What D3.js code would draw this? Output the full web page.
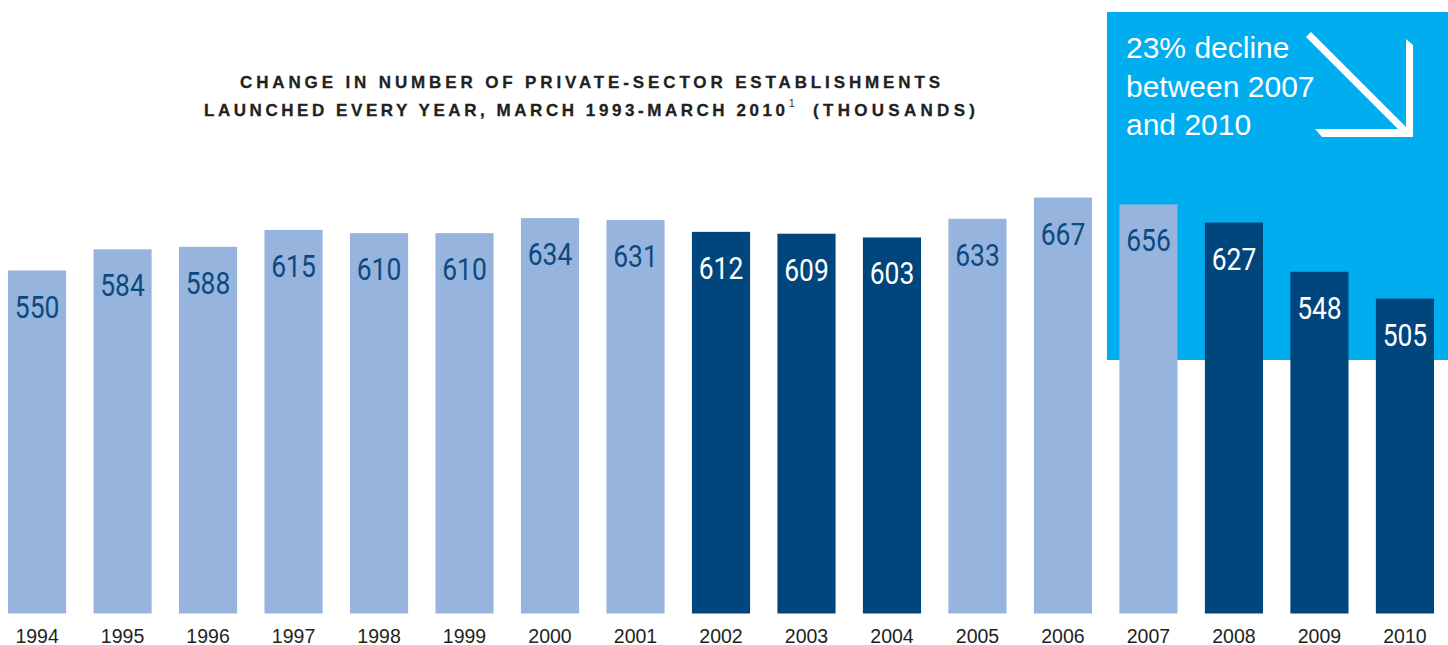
<!DOCTYPE html>
<html>
<head>
<meta charset="utf-8">
<script src="https://cdn.jsdelivr.net/npm/d3@7"></script>
<style>
  html, body { margin: 0; padding: 0; background: #fff; }
  svg { display: block; }
</style>
</head>
<body>
<svg id="chart" width="1448" height="645"></svg>
<script>
  "use strict";

  const years = ["1994", "1995", "1996", "1997", "1998", "1999", "2000", "2001", "2002",
    "2003", "2004", "2005", "2006", "2007", "2008", "2009", "2010"];
  const values = [550, 584, 588, 615, 610, 610, 634, 631, 612, 609, 603, 633, 667, 656, 627, 548, 505];
  const darkYears = ["2002", "2003", "2004", "2008", "2009", "2010"];
  const titleLines = [
    "CHANGE IN NUMBER OF PRIVATE-SECTOR ESTABLISHMENTS",
    "LAUNCHED EVERY YEAR, MARCH 1993-MARCH 2010",
    "(THOUSANDS)",
  ];
  const calloutLines = ["23% decline", "between 2007", "and 2010"];

  const col = {
    light: "#97b4de",
    dark: "#00457c",
    box: "#00aeef",
    labelDark: "#0b4a80",
    text: "#231f20",
  };

  const data = years.map((y, i) => ({ year: y, value: values[i], dark: darkYears.includes(y) }));

  const svg = d3.select("#chart");
  const baseY = 613.5;

  const x = d3.scaleBand().domain(years).range([8, 1434]).paddingInner(0.32).paddingOuter(0);
  const y = d3.scaleLinear().domain([0, 700]).range([baseY, baseY - 700 * 0.6236]);

  // callout box behind the last bars
  svg.append("rect")
    .attr("x", 1107).attr("y", 12)
    .attr("width", 341).attr("height", 348)
    .attr("fill", col.box);

  // arrow
  const arrow = svg.append("g").attr("fill", "#fff");
  arrow.append("polygon").attr("points", "1306,37 1311,32 1410,131 1405,136");
  arrow.append("polygon").attr("points", "1406,39 1413,45 1413,137 1406,131");
  arrow.append("polygon").attr("points", "1315,129 1407,129 1413,137 1322,137");

  const callout = svg.append("text")
    .attr("fill", "#fff")
    .attr("font-family", "'Liberation Sans', Arial, sans-serif")
    .attr("font-size", 30);
  calloutLines.forEach((t, i) => {
    callout.append("tspan").attr("x", 1126).attr("y", 58 + i * 38.5).text(t);
  });

  // title
  const title = svg.append("g")
    .attr("font-family", "'Liberation Sans', Arial, sans-serif")
    .attr("font-weight", "bold")
    .attr("font-size", 17)
    .attr("fill", col.text)
    .attr("stroke", col.text)
    .attr("stroke-width", 0.3);
  title.append("text")
    .attr("x", 240).attr("y", 88)
    .attr("textLength", 700).attr("lengthAdjust", "spacing")
    .text(titleLines[0]);
  title.append("text")
    .attr("x", 204).attr("y", 115.5)
    .attr("textLength", 581).attr("lengthAdjust", "spacing")
    .text(titleLines[1]);
  title.append("text")
    .attr("x", 789).attr("y", 107)
    .attr("font-size", 10).attr("font-weight", "normal").attr("stroke", "none")
    .text("1");
  title.append("text")
    .attr("x", 813).attr("y", 115.5)
    .attr("textLength", 162).attr("lengthAdjust", "spacing")
    .text(titleLines[2]);

  // bars
  svg.append("g").selectAll("rect")
    .data(data)
    .join("rect")
    .attr("x", (d) => x(d.year))
    .attr("y", (d) => y(d.value))
    .attr("width", x.bandwidth())
    .attr("height", (d) => baseY - y(d.value))
    .attr("fill", (d) => (d.dark ? col.dark : col.light));

  // value labels (condensed look)
  svg.append("g").selectAll("text")
    .data(data)
    .join("text")
    .attr("transform", (d) => `translate(${x(d.year) + x.bandwidth() / 2},${y(d.value) + 47}) scale(0.84,1)`)
    .attr("text-anchor", "middle")
    .attr("font-family", "Roboto, 'Liberation Sans', sans-serif")
    .attr("font-size", 31.5)
    .attr("fill", (d) => (d.dark ? "#fff" : col.labelDark))
    .text((d) => d.value);

  // year axis
  const axis = svg.append("g")
    .attr("transform", `translate(0,${baseY})`)
    .call(d3.axisBottom(x).tickSize(0).tickPadding(0));
  axis.select(".domain").remove();
  axis.selectAll("text")
    .attr("y", 29)
    .attr("dy", null)
    .attr("font-family", "'Liberation Sans', Arial, sans-serif")
    .attr("font-size", 19.5)
    .attr("fill", col.text);
</script>
</body>
</html>
